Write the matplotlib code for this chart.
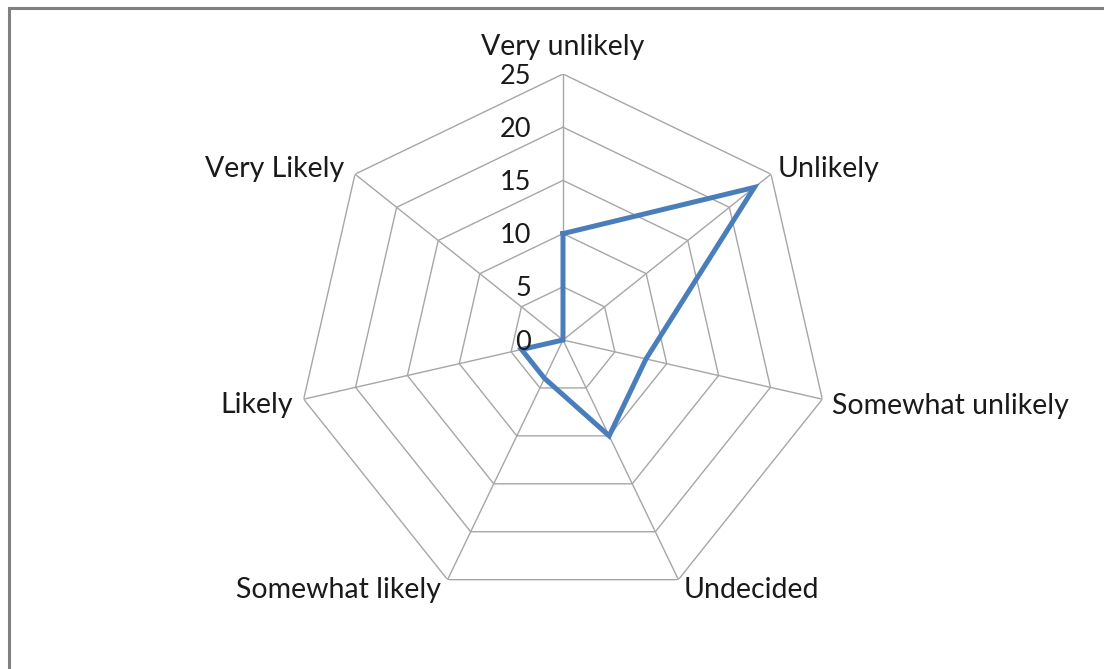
import numpy as np
import matplotlib
matplotlib.use("Agg")
import matplotlib.pyplot as plt
from matplotlib.patches import Rectangle

categories = ["Very unlikely", "Unlikely", "Somewhat unlikely", "Undecided",
              "Somewhat likely", "Likely", "Very Likely"]
values = [10, 23, 8, 10, 4, 4, 0]
rticks = [0, 5, 10, 15, 20, 25]

plt.rcParams['font.family'] = ['Lato', 'DejaVu Sans']

W, H = 1104, 669
fig = plt.figure(figsize=(W / 100, H / 100), dpi=100)

cx, cy, R = 563, 340, 266
ax = fig.add_axes([(cx - R) / W, (H - cy - R) / H, 2 * R / W, 2 * R / H], projection='polar')
ax.set_theta_zero_location('N')
ax.set_theta_direction(-1)
ax.set_ylim(0, 25)
ax.axis('off')

n = len(categories)
theta = np.arange(n) * 2 * np.pi / n
theta_c = np.append(theta, theta[0])

grid_col = '#a6a6a6'
for r in rticks[1:]:
    ax.plot(theta_c, [r] * (n + 1), color=grid_col, lw=1.0, zorder=1)
for t in theta:
    ax.plot([t, t], [0, 25], color=grid_col, lw=1.0, zorder=1)

vals_c = values + [values[0]]
ax.plot(theta_c, vals_c, color='#4a7ebb', lw=3.6, solid_joinstyle='miter', zorder=3)

# radial tick labels beside the top spoke
for r in rticks:
    ax.annotate(str(r), xy=(0, r), xytext=(-32, -2), textcoords='offset pixels',
                ha='right', va='center', fontsize=19.5, color='#1a1a1a')

# category labels
offsets = [((0, 14), 'center', 'bottom'),
           ((7, 5), 'left', 'center'),
           ((10, -7), 'left', 'center'),
           ((5, 3), 'left', 'top'),
           ((-7, 3), 'right', 'top'),
           ((-11, -6), 'right', 'center'),
           ((-11, 5), 'right', 'center')]
for t, lab, (off, ha, va) in zip(theta, categories, offsets):
    ax.annotate(lab, xy=(t, 25), xytext=off, textcoords='offset pixels',
                ha=ha, va=va, fontsize=20.5, color='#1a1a1a')

fig.add_artist(Rectangle((8.5 / W, -0.1), 1.2, (H - 8.5) / H + 0.1,
                         transform=fig.transFigure, fill=False,
                         edgecolor='#808080', lw=2.2))

fig.savefig('out.png', dpi=100)
